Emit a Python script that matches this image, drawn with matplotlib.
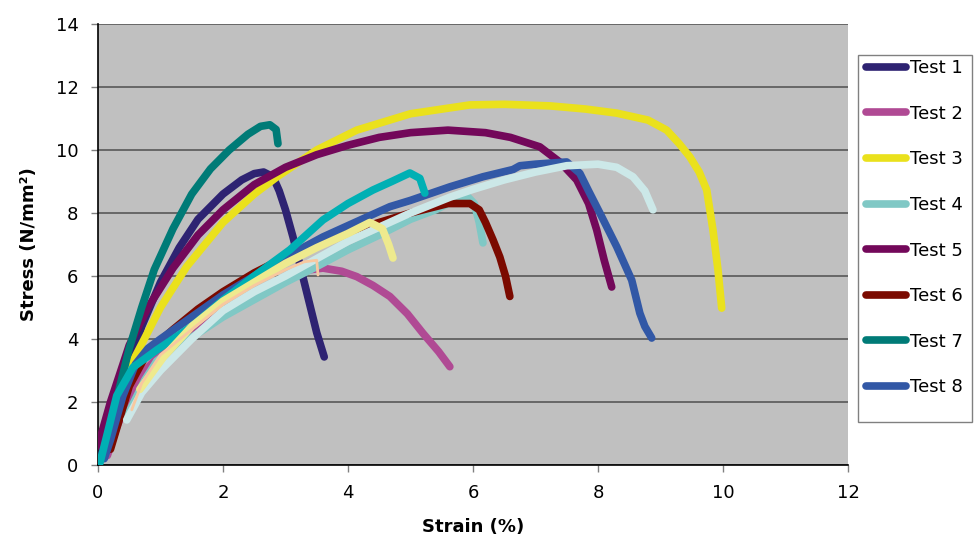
import matplotlib
matplotlib.use("Agg")
import matplotlib.pyplot as plt
from matplotlib.lines import Line2D
from matplotlib.patches import Rectangle

labels = ["Test 1", "Test 2", "Test 3", "Test 4", "Test 5", "Test 6", "Test 7", "Test 8"]

t1_x = [0.05, 0.2, 0.4, 0.7, 1.0, 1.3, 1.6, 2.0, 2.3, 2.5, 2.65, 2.8, 2.9, 3.0, 3.12, 3.25, 3.4, 3.5, 3.62]
t1_y = [0.3, 1.3, 2.5, 4.4, 5.8, 6.9, 7.8, 8.6, 9.05, 9.25, 9.3, 9.15, 8.7, 8.1, 7.24, 6.2, 5.0, 4.2, 3.43]

t2_x = [0.15, 0.3, 0.5, 0.8, 1.0, 1.5, 2.0, 2.5, 3.0, 3.4, 3.6, 3.9, 4.14, 4.4, 4.67, 4.95, 5.2, 5.45, 5.63]
t2_y = [0.3, 1.2, 2.2, 3.1, 3.5, 4.3, 4.9, 5.45, 5.9, 6.2, 6.25, 6.15, 5.98, 5.7, 5.35, 4.8, 4.18, 3.6, 3.12]

t3_x = [0.3, 0.56, 1.0, 1.42, 2.0, 2.5, 2.86, 3.5, 4.14, 5.0, 5.95, 6.5, 7.23, 7.8, 8.3, 8.8, 9.1, 9.3, 9.47, 9.62, 9.74, 9.84, 9.92, 9.98]
t3_y = [1.8, 3.3, 5.0, 6.3, 7.7, 8.6, 9.14, 10.0, 10.63, 11.15, 11.43, 11.45, 11.4, 11.3, 11.17, 10.95, 10.63, 10.2, 9.78, 9.3, 8.73, 7.46, 6.2, 4.98]

t4_x = [0.45, 0.6, 0.75, 0.94, 1.2, 1.5, 2.0, 2.5, 3.0, 3.5, 4.0, 4.5, 5.0, 5.4, 5.7, 5.9, 6.02, 6.1, 6.16]
t4_y = [1.5, 2.1, 2.7, 3.3, 3.7, 4.05, 4.7, 5.25, 5.8, 6.3, 6.83, 7.3, 7.8, 8.1, 8.4, 8.55, 8.3, 7.7, 7.05]

t5_x = [0.0, 0.2, 0.5, 0.8, 1.2, 1.6, 2.0, 2.5, 3.0, 3.5, 4.0, 4.5, 5.0, 5.6, 6.2, 6.6, 7.07, 7.4, 7.66, 7.85, 7.98, 8.1, 8.22]
t5_y = [0.6, 2.0, 3.8, 5.0, 6.25, 7.3, 8.1, 8.9, 9.45, 9.85, 10.15, 10.4, 10.55, 10.63, 10.55, 10.4, 10.1, 9.6, 9.05, 8.3, 7.46, 6.5, 5.65]

t6_x = [0.2, 0.35, 0.5, 0.8, 1.2, 1.6, 2.0, 2.5, 3.0, 3.5, 4.0, 4.5, 5.0, 5.3, 5.6, 5.95, 6.1, 6.2, 6.32, 6.43, 6.52, 6.59]
t6_y = [0.5, 1.5, 2.5, 3.6, 4.3, 4.95, 5.5, 6.1, 6.6, 7.0, 7.4, 7.7, 8.0, 8.15, 8.3, 8.3, 8.1, 7.7, 7.15, 6.6, 6.0, 5.35]

t7_x = [0.05, 0.2, 0.35, 0.5, 0.7, 0.9, 1.2, 1.5, 1.8, 2.1, 2.4, 2.6, 2.75, 2.85, 2.88]
t7_y = [0.2, 1.2, 2.5, 3.7, 5.0, 6.2, 7.5, 8.6, 9.4, 10.0, 10.5, 10.75, 10.8, 10.65, 10.2]

t8_x = [0.1, 0.2, 0.4, 0.6, 0.8, 1.0, 1.5, 2.0, 2.5, 3.0, 3.6, 4.0, 4.67, 5.0, 5.63, 6.16, 6.64, 6.75, 7.0, 7.5, 7.71, 7.85, 8.03, 8.3, 8.54, 8.67, 8.75, 8.86]
t8_y = [0.2, 0.8, 2.2, 3.2, 3.7, 4.0, 4.7, 5.4, 6.0, 6.6, 7.24, 7.6, 8.2, 8.4, 8.83, 9.15, 9.38, 9.5, 9.55, 9.62, 9.26, 8.7, 8.0, 6.93, 5.87, 4.82, 4.4, 4.03]

t9_x = [0.03, 0.15, 0.3, 0.56, 0.94, 1.5, 2.0, 2.5, 3.07, 3.6, 4.0, 4.4, 4.7, 4.99, 5.15, 5.23]
t9_y = [0.06, 1.0, 2.2, 3.1, 3.65, 4.4, 5.24, 6.0, 6.83, 7.78, 8.3, 8.73, 9.0, 9.27, 9.1, 8.63]

t10_x = [0.46, 0.7, 1.0, 1.5, 2.0, 2.5, 3.0, 3.5, 4.0, 4.5, 5.0, 5.63, 6.0, 6.5, 7.0, 7.5, 8.0, 8.3, 8.56, 8.75, 8.88]
t10_y = [1.43, 2.3, 3.0, 4.0, 4.9, 5.5, 6.0, 6.55, 7.1, 7.55, 8.0, 8.5, 8.75, 9.05, 9.3, 9.5, 9.55, 9.45, 9.15, 8.7, 8.1]

t11_x = [0.67, 1.05, 1.5, 2.0, 2.5, 3.0, 3.5, 4.0, 4.35, 4.55, 4.65, 4.72]
t11_y = [2.4, 3.43, 4.4, 5.2, 5.8, 6.4, 6.9, 7.35, 7.7, 7.5, 7.0, 6.57]

t12_x = [0.54, 0.7, 1.0, 1.5, 2.0, 2.5, 3.0, 3.3, 3.5, 3.52]
t12_y = [1.75, 2.6, 3.5, 4.3, 5.1, 5.7, 6.2, 6.45, 6.5, 6.03]

series_x = [t1_x, t2_x, t3_x, t4_x, t5_x, t6_x, t7_x, t8_x, t9_x, t10_x, t11_x, t12_x]
series_y = [t1_y, t2_y, t3_y, t4_y, t5_y, t6_y, t7_y, t8_y, t9_y, t10_y, t11_y, t12_y]
colors = ["#2E2372", "#B04A94", "#EAE11C", "#80C8C5", "#73085A", "#7B0A00",
          "#007B77", "#3258A6", "#00B0B4", "#CCE8E8", "#EEEA8E", "#F8C8A0"]
widths = [5.5] * 11 + [2.0]

plt.rcParams['font.family'] = ['DejaVu Sans']
fig = plt.figure(figsize=(9.75, 5.4), dpi=100)
ax = fig.add_axes([0.1005, 0.1389, 0.7692, 0.8167])
ax.set_facecolor("#C0C0C0")

for x, y, c, w in zip(series_x, series_y, colors, widths):
    ax.plot(x, y, color=c, lw=w, solid_capstyle='round', solid_joinstyle='round', zorder=3)

ax.set_xlim(0, 12)
ax.set_ylim(0, 14)
ax.set_xticks(range(0, 13, 2))
ax.set_yticks(range(0, 15, 2))
ax.grid(axis='y', color="#606060", lw=1.3, zorder=1)
ax.set_axisbelow(True)
for s in ['top', 'right']:
    ax.spines[s].set_visible(False)
ax.spines['left'].set_color('black')
ax.spines['bottom'].set_color('black')
ax.spines['left'].set_linewidth(1.2)
ax.spines['bottom'].set_linewidth(1.2)
ax.tick_params(axis='both', labelsize=13, length=5, color='#808080', direction='out', width=1, pad=9)
ax.set_xlabel("Strain (%)", fontsize=13, fontweight='bold', labelpad=11)
ax.set_ylabel("Stress (N/mm²)", fontsize=13, fontweight='bold', labelpad=13)

# legend frame (box extends below the entries as in the reference)
W, H = 975.0, 540.0
fig.patches.append(Rectangle((858 / W, 1 - 422 / H), (972 - 858) / W, (422 - 55) / H,
                             transform=fig.transFigure, facecolor='white',
                             edgecolor='#808080', lw=1.0, zorder=0))
leg_handles = [Line2D([0], [0], color=colors[i], lw=5.5, solid_capstyle='round') for i in range(8)]
leg = fig.legend(leg_handles, labels, loc='upper left', bbox_to_anchor=(866 / W, 1 - 59 / H),
                 fontsize=13, frameon=False, handlelength=2.2, handletextpad=0.25,
                 labelspacing=1.53, borderaxespad=0, borderpad=0.0)

fig.savefig("out.png", dpi=100)
